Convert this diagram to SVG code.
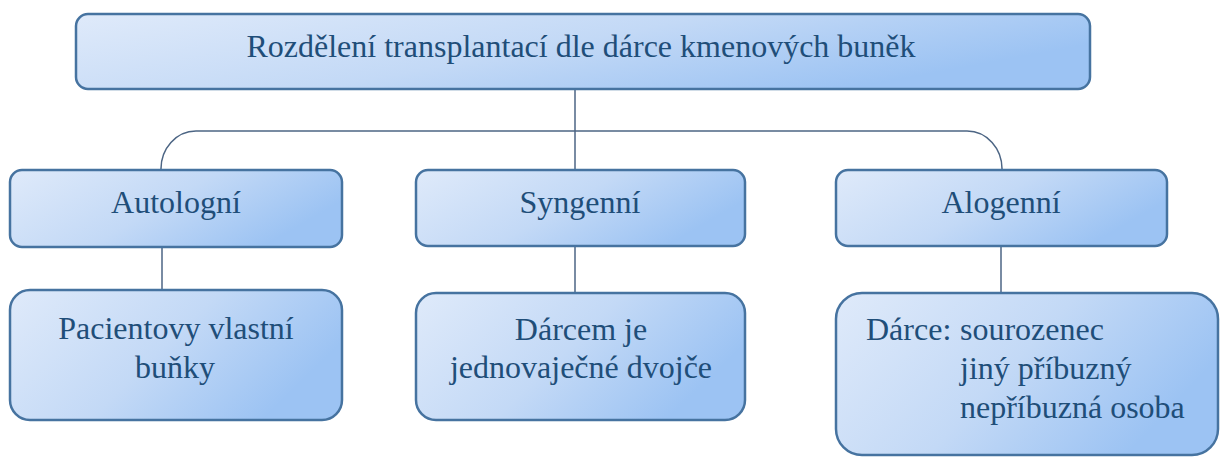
<svg xmlns="http://www.w3.org/2000/svg" width="1226" height="457" viewBox="0 0 1226 457">
<defs>
<linearGradient id="g" x1="0" y1="0" x2="1" y2="0.4">
<stop offset="0" stop-color="#dfeafa"/>
<stop offset="0.55" stop-color="#c3d9f6"/>
<stop offset="1" stop-color="#9cc3f3"/>
</linearGradient>
<style>
.box{fill:url(#g);stroke:#4673a0;stroke-width:2.5}
.c{fill:none;stroke:#4c6584;stroke-width:1.5}
.t{font-family:"Liberation Serif","Times New Roman",serif;font-size:32px;fill:#1f4e79}
.m{text-anchor:middle}
</style>
</defs>
<g id="connectors">
<path class="c" d="M575,89 V170"/>
<path class="c" d="M161,170 A35,38 0 0 1 196,131 H967 A35,38 0 0 1 1002,170"/>
<path class="c" d="M162,247 V290"/>
<path class="c" d="M575,246 V292"/>
<path class="c" d="M1001,246 V293"/>
</g>
<g id="root">
<rect class="box" x="76" y="14" width="1014" height="75" rx="12"/>
<text class="t m" x="581" y="57">Rozdělení transplantací dle dárce kmenových buněk</text>
</g>
<g id="autologni">
<rect class="box" x="10" y="170" width="332" height="77" rx="12"/>
<text class="t m" x="176" y="213">Autologní</text>
</g>
<g id="syngenni">
<rect class="box" x="416" y="170" width="329" height="76" rx="12"/>
<text class="t m" x="580" y="213">Syngenní</text>
</g>
<g id="alogenni">
<rect class="box" x="836" y="170" width="331" height="76" rx="12"/>
<text class="t m" x="1001" y="213">Alogenní</text>
</g>
<g id="pacient">
<rect class="box" x="10" y="290" width="332" height="130" rx="20"/>
<text class="t m" x="176" y="339">Pacientovy vlastní</text>
<text class="t m" x="175" y="378">buňky</text>
</g>
<g id="dvojce">
<rect class="box" x="416" y="293" width="329" height="127" rx="20"/>
<text class="t m" x="581" y="340">Dárcem je</text>
<text class="t m" x="581" y="378">jednovaječné dvojče</text>
</g>
<g id="darce">
<rect class="box" x="836" y="293" width="382" height="162" rx="26"/>
<text class="t" x="866" y="340">Dárce:</text>
<text class="t" x="960" y="340">sourozenec</text>
<text class="t" x="960" y="379">jiný příbuzný</text>
<text class="t" x="960" y="418">nepříbuzná osoba</text>
</g>
</svg>
